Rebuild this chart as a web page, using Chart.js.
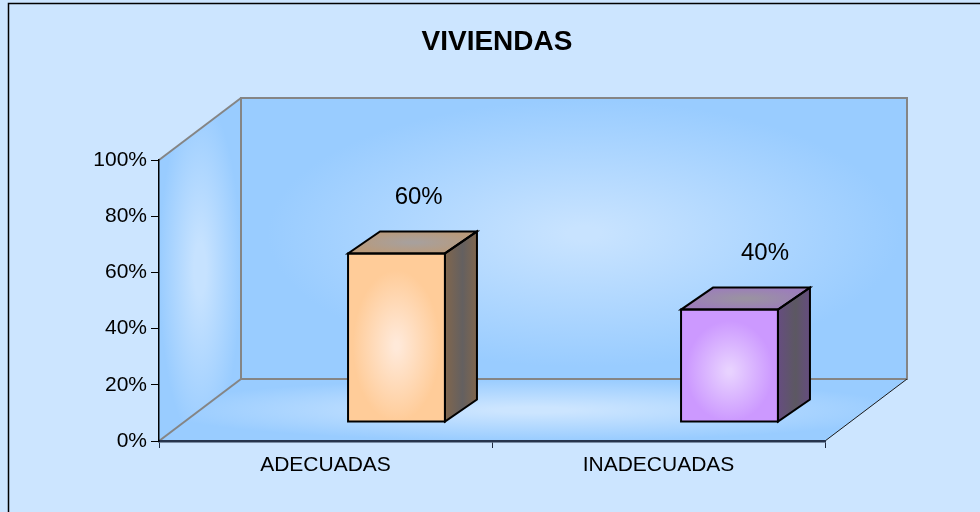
<!DOCTYPE html>
<html>
<head>
<meta charset="utf-8">
<script src="https://cdn.jsdelivr.net/npm/chart.js@4/dist/chart.umd.min.js"></script>
<style>
  html, body { margin: 0; padding: 0; background: #CCE5FF; }
  #wrap { width: 980px; height: 512px; position: relative; }
</style>
</head>
<body>
<div id="wrap"><canvas id="c" width="980" height="512"></canvas></div>
<script>
// ---- data ----
const chartTitle = 'VIVIENDAS';
const categories = ['ADECUADAS', 'INADECUADAS'];
const values = [60, 40];
const yTicks = [0, 20, 40, 60, 80, 100];

// ---- styles ----
const frontColors = ['#FFCC99', '#CC99FF'];
const frontCenters = ['#FFE9D9', '#E8D2FF'];
const sideColors = ['#80664D', '#664D80'];
const sideCenters = ['#646060', '#5C5862'];
const topColors = ['#B89A7C', '#9C7EBA'];
const topCenters = ['#A8A09C', '#9A92A2'];
const FONT = "'Liberation Sans', Arial, sans-serif";

const DEPTH = { dx: 82, dy: -62 };      // wall depth
const BAR_SHIFT = { dx: 71, dy: -19 };  // bar front face placement
const BAR_DEPTH = { dx: 32, dy: -22 };  // bar depth

function polyPath(ctx, pts) {
  ctx.beginPath();
  pts.forEach((p, i) => i ? ctx.lineTo(p[0], p[1]) : ctx.moveTo(p[0], p[1]));
  ctx.closePath();
}
function radialFill(ctx, pts, cx, cy, rx, ry, inner, outer, s0, s1) {
  ctx.save();
  polyPath(ctx, pts);
  ctx.clip();
  ctx.translate(cx, cy);
  ctx.scale(rx, ry);
  const g = ctx.createRadialGradient(0, 0, 0, 0, 0, 1);
  g.addColorStop(0, inner);
  g.addColorStop(s0, inner);
  g.addColorStop(s1, outer);
  g.addColorStop(1, outer);
  ctx.fillStyle = g;
  ctx.fillRect(-4, -4, 8, 8);
  ctx.restore();
}
function linearFill(ctx, pts, x0, y0, x1, y1, stops) {
  ctx.save();
  polyPath(ctx, pts);
  const g = ctx.createLinearGradient(x0, y0, x1, y1);
  stops.forEach(s => g.addColorStop(s[0], s[1]));
  ctx.fillStyle = g;
  ctx.fill();
  ctx.restore();
}
function line(ctx, x0, y0, x1, y1, color, w) {
  ctx.save();
  ctx.strokeStyle = color; ctx.lineWidth = w;
  ctx.beginPath(); ctx.moveTo(x0, y0); ctx.lineTo(x1, y1); ctx.stroke();
  ctx.restore();
}

const scene = {
  id: 'scene',
  beforeDraw(chart) {
    const { ctx, chartArea: a, width, height } = chart;
    ctx.save();
    ctx.fillStyle = '#CCE5FF';
    ctx.fillRect(0, 0, width, height);
    ctx.strokeStyle = '#000';
    ctx.lineWidth = 1.5;
    ctx.strokeRect(8.5, 3.5, width + 20, height + 20);
    ctx.restore();

    const L = a.left, R = a.right, T = a.top, B = a.bottom;
    const dx = DEPTH.dx, dy = DEPTH.dy;
    // side wall
    const side = [[L, T], [L + dx, T + dy], [L + dx, B + dy], [L, B]];
    radialFill(ctx, side, L + dx / 2, (T + B + dy) / 2, dx / 2, (B - T - dy) / 2, '#C6E2FF', '#99CCFF', 0.15, 1.0);
    // back wall
    const back = [[L + dx, T + dy], [R + dx, T + dy], [R + dx, B + dy], [L + dx, B + dy]];
    radialFill(ctx, back, (L + R) / 2 + dx + 10, (T + B) / 2 + dy - 5, (R - L) / 2, (B - T) / 2, '#C8E3FF', '#99CCFF', 0.05, 0.95);
    // floor
    const floor = [[L, B], [R, B], [R + dx, B + dy], [L + dx, B + dy]];
    radialFill(ctx, floor, (L + R + dx) / 2, B + dy / 2, (R - L + dx) / 2, -dy / 2, '#CCE5FF', '#99CCFF', 0.1, 1.0);

    // wall edges
    ctx.save();
    ctx.strokeStyle = '#858585';
    ctx.lineWidth = 2;
    ctx.strokeRect(L + dx, T + dy, R - L, B - T);
    ctx.restore();
    line(ctx, L, T, L + dx, T + dy, '#858585', 2);
    line(ctx, L, B, L + dx, B + dy, '#858585', 2);
    line(ctx, R, B, R + dx, B + dy, '#1A1A1A', 1);
  },
  afterDatasetsDraw(chart) {
    const { ctx, chartArea: a } = chart;
    const meta = chart.getDatasetMeta(0);
    const mid = (a.left + a.right) / 2;
    meta.data.forEach((el, i) => {
      const w = el.width;
      const x0 = el.x - w / 2 + BAR_SHIFT.dx, x1 = x0 + w;
      const yT = el.y + BAR_SHIFT.dy, yB = el.base + BAR_SHIFT.dy;
      const bx = BAR_DEPTH.dx, by = BAR_DEPTH.dy;

      const sidePts = [[x1, yT], [x1 + bx, yT + by], [x1 + bx, yB + by], [x1, yB]];
      linearFill(ctx, sidePts, x1, 0, x1 + bx, 0,
        [[0, sideColors[i]], [0.55, sideCenters[i]], [1, sideColors[i]]]);
      const topPts = [[x0, yT], [x1, yT], [x1 + bx, yT + by], [x0 + bx, yT + by]];
      radialFill(ctx, topPts, (x0 + x1 + bx) / 2, yT + by / 2, (w + bx) / 2, -by / 2, topCenters[i], topColors[i], 0.1, 1.0);
      const frontPts = [[x0, yT], [x1, yT], [x1, yB], [x0, yB]];
      radialFill(ctx, frontPts, (x0 + x1) / 2, (yT + yB) / 2 + (yB - yT) * 0.05, w / 2, (yB - yT) / 2, frontCenters[i], frontColors[i], 0.05, 0.9);

      ctx.save();
      ctx.strokeStyle = '#000';
      ctx.lineWidth = 2;
      ctx.lineJoin = 'miter';
      polyPath(ctx, sidePts); ctx.stroke();
      polyPath(ctx, topPts); ctx.stroke();
      polyPath(ctx, frontPts); ctx.stroke();
      ctx.restore();

      // value label
      const fc = (x0 + x1) / 2;
      ctx.save();
      ctx.fillStyle = '#000';
      ctx.font = '24px ' + FONT;
      ctx.textAlign = 'center';
      ctx.textBaseline = 'middle';
      ctx.fillText(values[i] + '%', fc + 26 + 0.04 * (fc - mid), yT - 56);
      ctx.restore();
    });
  }
};

new Chart(document.getElementById('c'), {
  type: 'bar',
  data: {
    labels: categories,
    datasets: [{
      data: values,
      backgroundColor: 'rgba(0,0,0,0)',
      borderWidth: 0,
      barPercentage: 0.291,
      categoryPercentage: 1
    }]
  },
  options: {
    responsive: false,
    animation: false,
    devicePixelRatio: 1,
    layout: { padding: { left: 14, right: 0, top: 8, bottom: 0 } },
    plugins: {
      legend: { display: false },
      tooltip: { enabled: false },
      title: {
        display: true,
        text: chartTitle,
        color: '#000',
        font: { family: FONT, size: 28, weight: 'bold' },
        padding: { top: 17, bottom: 101.4 }
      }
    },
    scales: {
      x: {
        grid: { offset: true, drawOnChartArea: false, drawTicks: true, tickLength: 7, color: '#1E2A40', lineWidth: 1 },
        border: { color: '#26344D', width: 2.5 },
        ticks: { color: '#000', font: { family: FONT, size: 21 }, padding: 5, maxRotation: 0 },
        afterFit(s) { s.height = 71; }
      },
      y: {
        min: 0, max: 100,
        afterBuildTicks(s) { s.ticks = yTicks.map(v => ({ value: v })); },
        ticks: { color: '#000', font: { family: FONT, size: 21 }, padding: 4, callback: v => v + '%' },
        grid: { drawOnChartArea: false, drawTicks: true, tickLength: 8, color: '#000', lineWidth: 1 },
        border: { color: '#000', width: 1.5 },
        afterFit(s) { s.width = 145; }
      },
      yRight: {
        type: 'linear',
        position: 'right',
        min: 0, max: 100,
        grid: { display: false, drawTicks: false },
        border: { display: false },
        ticks: { display: false },
        afterFit(s) { s.width = 155; }
      }
    }
  },
  plugins: [scene]
});
</script>
</body>
</html>
